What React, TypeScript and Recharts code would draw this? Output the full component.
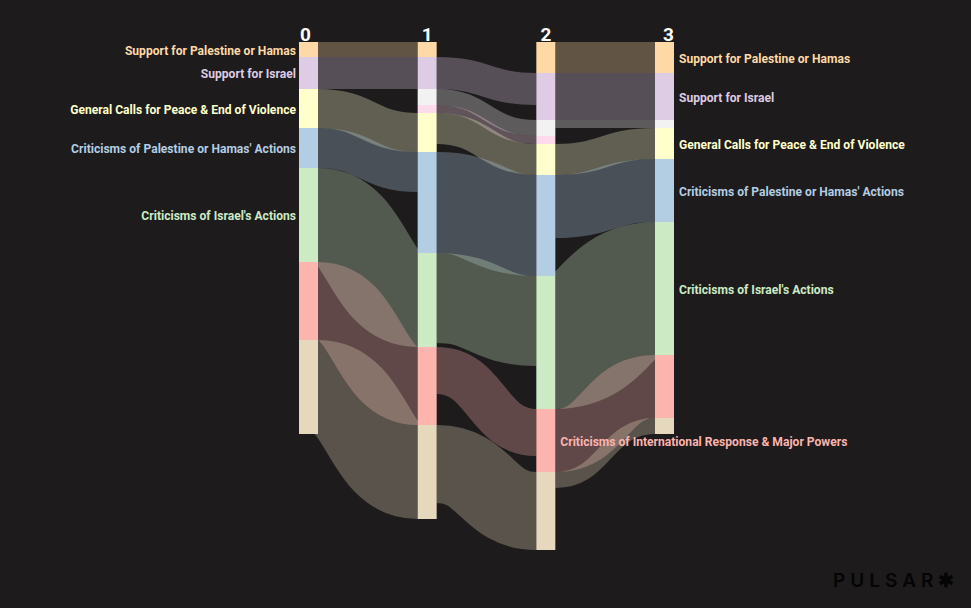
import React from 'react';
import { Sankey } from 'recharts';

// topics tracked across the four time steps
const categories = [
  'Support for Palestine or Hamas',
  'Support for Israel',
  'Other',
  'Humanitarian Concerns',
  'General Calls for Peace & End of Violence',
  "Criticisms of Palestine or Hamas' Actions",
  "Criticisms of Israel's Actions",
  'Criticisms of International Response & Major Powers',
  'Unclassified',
];
const steps = ['0', '1', '2', '3'];

// flow of each topic from one step to the next
const flow0to1 = [15, 32, 0, 0, 39, 40, 94, 78, 94];
const flow1to2 = [0, 32, 16, 8, 31, 101, 90, 47, 78];
const flow2to3 = [31, 47, 8, 0, 31, 63, 133, 63, 16];
const flows = [flow0to1, flow1to2, flow2to3];

// which topics get a label at each step
const labelledAt = [[0, 1, 4, 5, 6], [], [7], [0, 1, 4, 5, 6]];

const palette = ['#fed9a6', '#decbe4', '#f2f2f2', '#fddaec', '#ffffcc', '#b3cde3', '#ccebc5', '#fbb4ae', '#e5d8bd'];
const BG = '#1d1b1c';

const nodes = steps.flatMap((s, k) => categories.map((name, i) => ({ name, cat: i, step: k })));
const links = flows.flatMap((vals, k) =>
  vals.map((value, i) => ({ source: k * categories.length + i, target: (k + 1) * categories.length + i, value }))
);

const labelStyle = { fontFamily: 'Roboto, sans-serif', fontWeight: 700, fontSize: 13 };

const Node = (props: any) => {
  const { x, y, width, height, payload } = props;
  const cat = payload.cat;
  const step = payload.step;
  const out: React.ReactNode[] = [];
  if (cat === 0) {
    const anchor = step === 0 ? 'start' : step === steps.length - 1 ? 'end' : 'middle';
    const hx = step === 0 ? x + 1 : step === steps.length - 1 ? x + width : x + width / 2;
    out.push(
      <text key="h" x={hx} y={y - 1} textAnchor={anchor} fill="#ffffff"
        style={{ fontFamily: 'Roboto, sans-serif', fontWeight: 700, fontSize: 19 }}>
        {steps[step]}
      </text>
    );
  }
  if (height > 0) {
    out.push(<rect key="r" x={x} y={y} width={width} height={height} fill={palette[cat]} />);
    if (labelledAt[step].includes(cat)) {
      const left = step === 0;
      const tx = left ? x - 3 : x + width + 5;
      out.push(
        <text key="t" transform={`translate(${tx},${y + height / 2 + 0.5}) scale(0.93,1)`}
          textAnchor={left ? 'end' : 'start'} dominantBaseline="central"
          fill={palette[cat]} style={labelStyle}>
          {categories[cat]}
        </text>
      );
    }
  }
  return <g>{out}</g>;
};

const Link = (props: any) => {
  const { sourceX, targetX, sourceY, targetY, sourceControlX, targetControlX, linkWidth, payload } = props;
  if (!linkWidth || linkWidth <= 0) return <g />;
  const cat = payload?.source?.cat ?? 0;
  return (
    <path
      d={`M${sourceX},${sourceY}C${sourceControlX},${sourceY} ${targetControlX},${targetY} ${targetX},${targetY}`}
      fill="none"
      stroke={palette[cat]}
      strokeOpacity={0.3}
      strokeWidth={linkWidth}
    />
  );
};

export default function App() {
  return (
    <div style={{ position: 'absolute', left: 0, top: 0, width: 971, height: 608, background: BG, overflow: 'hidden' }}>
      <Sankey
        width={971}
        height={608}
        data={{ nodes, links }}
        nodeWidth={19}
        nodePadding={0}
        iterations={0}
        sort={false}
        margin={{ top: 42, right: 297, bottom: 58, left: 299 }}
        node={<Node />}
        link={<Link />}
      />
      <div style={{ position: 'absolute', left: 833, top: 569, fontFamily: 'Inter, sans-serif', fontWeight: 600, fontSize: 19, letterSpacing: 5, color: '#050505' }}>
        PULSAR✱
      </div>
    </div>
  );
}
